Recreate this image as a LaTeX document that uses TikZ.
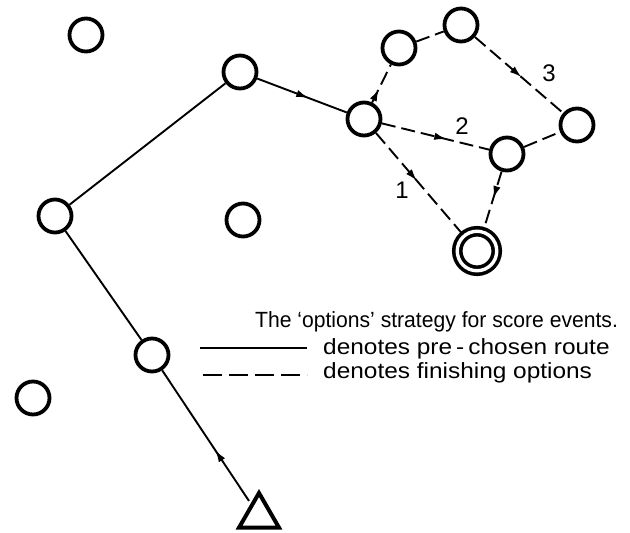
\documentclass[tikz,border=0pt]{standalone}
\usepackage{fontspec}
\setmainfont{Liberation Sans}
\usetikzlibrary{arrows.meta,decorations.markings,shapes.geometric}
\begin{document}
\begin{tikzpicture}[x=1pt,y=-1pt,
 ev/.style={circle,draw,line width=3.8pt,minimum size=33pt,inner sep=0pt},
 fin/.style={circle,draw,line width=3.6pt,double,double distance=3.4pt,minimum size=39.5pt,inner sep=0pt},
 startn/.style={regular polygon,regular polygon sides=3,draw,line width=4pt,minimum size=46pt,inner sep=0pt},
 route/.style={line width=1.9pt},
 opt/.style={line width=1.9pt,dash pattern=on 14pt off 6pt},
 midarrow/.style={postaction={decorate},decoration={markings,mark=at position #1 with {\arrow{Latex[length=12pt,width=7.5pt]}}}},
 lbl/.style={font=\fontsize{24}{26}\selectfont,inner sep=0pt},
 legend/.style={font=\fontsize{22}{24}\selectfont,anchor=base west,inner sep=0pt}
]
\useasboundingbox (0,0) rectangle (630,533);
\node[ev] (o1) at (86,35) {};
\node[ev] (r2) at (240,72) {};
\node[ev] (a) at (364,119) {};
\node[ev] (b) at (399,48) {};
\node[ev] (c) at (461,25) {};
\node[ev] (d) at (577,125) {};
\node[ev] (e) at (507,154) {};
\node[fin] (f) at (477,251) {};
\node[ev] (r1) at (55,216) {};
\node[ev] (o2) at (243,220) {};
\node[ev] (r0) at (152,355) {};
\node[ev] (o3) at (33,398) {};
\node[startn] (t) at (259,516) {};

\draw[route,midarrow=0.4,shorten <=3pt] (t) -- (r0);
\draw[route] (r0) -- (r1);
\draw[route] (r1) -- (r2);
\draw[route,midarrow=0.57] (r2) -- (a);
\draw[opt,midarrow=0.35] (a) -- (b);
\draw[opt] (b) -- (c);
\draw[opt,midarrow=0.53] (c) -- (d);
\draw[opt,midarrow=0.6] (a) -- (e);
\draw[opt] (e) -- (d);
\draw[opt,midarrow=0.47] (a) -- (f);
\draw[opt,midarrow=0.45] (e) -- (f);

\node[lbl] (l1) at (402,190) {1};
\node[lbl] (l2) at (462,126) {2};
\node[lbl] (l3) at (549,73) {3};

\node[legend] (t1) at (255,327) {\scalebox{0.96}[1]{The ‘options’ strategy for score events.}};
\coordinate (s1) at (200,348);
\coordinate (s2) at (307,348);
\draw[route] (s1) -- (s2);
\node[legend] (t2) at (323,354) {\scalebox{1.11}[1]{denotes pre\,-\,chosen route}};
\coordinate (d1) at (203,375);
\coordinate (d2) at (307,375);
\draw[route,dash pattern=on 19pt off 7pt] (d1) -- (d2);
\node[legend] (t3) at (323,378) {\scalebox{1.11}[1]{denotes finishing options}};
\end{tikzpicture}
\end{document}
